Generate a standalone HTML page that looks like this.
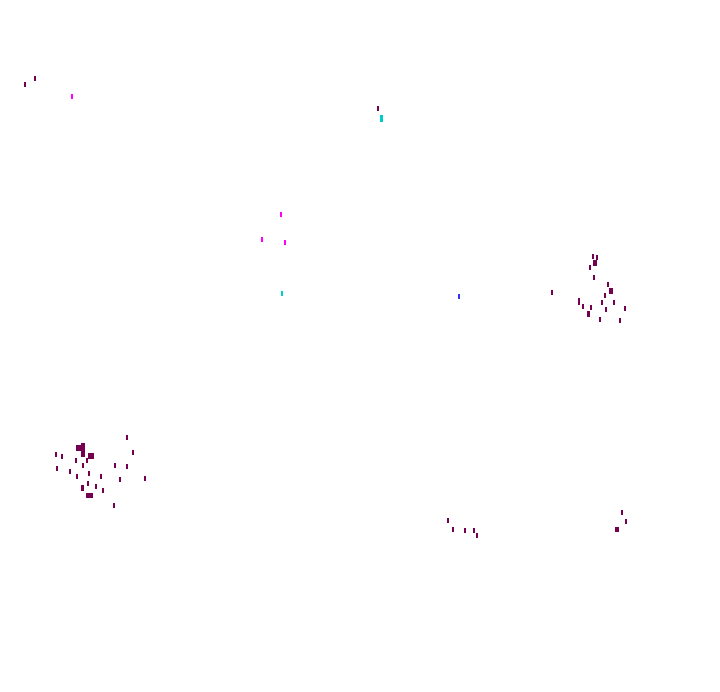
<!DOCTYPE html>
<html><head><meta charset="utf-8"><style>
html,body{margin:0;padding:0;background:#fff;width:720px;height:692px;overflow:hidden;position:relative}
i{position:absolute;width:2px;height:5px;background:#750050;display:block}
.m{background:#f0f}.b{background:#33f}.c{background:#0cc}
</style></head><body>
<i style="left:24px;top:82px"></i><i style="left:34px;top:76px"></i><i class="m" style="left:71px;top:94px"></i>
<i style="left:377px;top:106px"></i><i class="c" style="left:380px;top:115px;width:3px;height:7px"></i>
<i class="m" style="left:280px;top:212px"></i><i class="m" style="left:261px;top:237px"></i><i class="m" style="left:284px;top:240px"></i>
<i class="c" style="left:281px;top:291px"></i><i class="b" style="left:458px;top:294px"></i>
<i style="left:551px;top:290px"></i>
<i style="left:592px;top:254px"></i><i style="left:596px;top:255px"></i><i style="left:593px;top:260px;width:4px;height:6px"></i>
<i style="left:589px;top:265px"></i><i style="left:593px;top:275px"></i><i style="left:607px;top:282px"></i>
<i style="left:609px;top:288px;width:4px;height:6px"></i><i style="left:604px;top:293px"></i><i style="left:578px;top:298px;height:7px"></i>
<i style="left:582px;top:304px"></i><i style="left:590px;top:305px"></i><i style="left:601px;top:300px"></i><i style="left:613px;top:300px"></i>
<i style="left:587px;top:311px;width:3px;height:6px"></i><i style="left:605px;top:307px"></i><i style="left:624px;top:306px"></i>
<i style="left:599px;top:317px"></i><i style="left:619px;top:318px"></i>
<i style="left:126px;top:435px"></i>
<i style="left:76px;top:445px;width:8px;height:6px"></i><i style="left:81px;top:443px;width:4px;height:14px"></i>
<i style="left:88px;top:453px;width:6px;height:6px"></i><i style="left:55px;top:452px"></i><i style="left:61px;top:454px"></i>
<i style="left:132px;top:450px"></i><i style="left:75px;top:458px"></i><i style="left:86px;top:458px"></i>
<i style="left:82px;top:463px"></i><i style="left:114px;top:463px"></i><i style="left:126px;top:464px"></i>
<i style="left:56px;top:466px"></i><i style="left:69px;top:469px"></i><i style="left:88px;top:471px"></i>
<i style="left:76px;top:474px"></i><i style="left:100px;top:474px"></i><i style="left:119px;top:477px"></i>
<i style="left:144px;top:476px"></i><i style="left:87px;top:481px"></i><i style="left:95px;top:484px"></i>
<i style="left:81px;top:485px;width:3px;height:6px"></i><i style="left:102px;top:488px"></i>
<i style="left:86px;top:493px;width:7px;height:5px"></i><i style="left:113px;top:503px"></i>
<i style="left:447px;top:518px"></i><i style="left:452px;top:527px"></i><i style="left:464px;top:528px"></i>
<i style="left:473px;top:528px"></i><i style="left:476px;top:533px"></i>
<i style="left:621px;top:510px"></i><i style="left:625px;top:519px"></i><i style="left:615px;top:527px;width:4px"></i>
</body></html>
